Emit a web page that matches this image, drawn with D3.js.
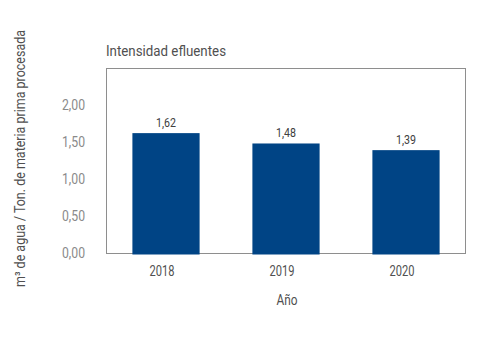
<!DOCTYPE html>
<html>
<head>
<meta charset="utf-8">
<script src="https://cdn.jsdelivr.net/npm/d3@7"></script>
<style>
  body { margin: 0; background: #ffffff; }
  svg text { font-family: Roboto, "Liberation Sans", sans-serif; }
</style>
</head>
<body>
<svg id="chart" width="502" height="351"></svg>
<script>
const years = ['2018', '2019', '2020'];
const values = [1.62, 1.48, 1.39];
const yTicks = [0, 0.5, 1, 1.5, 2];

const svg = d3.select('#chart');
const margin = { left: 106, right: 36, top: 68, bottom: 98 };
const width = 502, height = 351;

const x = d3.scaleBand()
    .domain(years)
    .range([margin.left, width - margin.right])
    .paddingInner(0.44)
    .paddingOuter(0.22);

const y = d3.scaleLinear()
    .domain([0, 2.5])
    .range([height - margin.bottom, margin.top]);

const fmt = d => d3.format('.2f')(d).replace('.', ',');

// the reference uses a condensed face, squeeze text to its width
const squeeze = (sel, w) => sel
    .attr('textLength', w)
    .attr('lengthAdjust', 'spacingAndGlyphs');

// frame
svg.append('rect')
    .attr('x', margin.left + 0.5)
    .attr('y', margin.top + 0.5)
    .attr('width', width - margin.left - margin.right - 1)
    .attr('height', y(0) - margin.top)
    .attr('fill', 'none')
    .attr('stroke', '#8e8e8e')
    .attr('stroke-width', 1);

// bars
svg.append('g')
    .selectAll('rect')
    .data(values)
    .enter()
    .append('rect')
    .attr('x', (d, i) => x(years[i]))
    .attr('y', d => y(d))
    .attr('width', x.bandwidth())
    .attr('height', d => y(0) - y(d) + 1.5)
    .attr('fill', '#004485');

// value labels
svg.append('g')
    .selectAll('text')
    .data(values)
    .enter()
    .append('text')
    .attr('x', (d, i) => x(years[i]) + x.bandwidth() / 2)
    .attr('y', d => y(d) - 6)
    .attr('text-anchor', 'middle')
    .attr('font-size', 13.5)
    .attr('fill', '#404040')
    .text(fmt)
    .call(squeeze, 20);

// y axis
const yAxis = svg.append('g')
    .attr('transform', `translate(${margin.left - 21},0)`)
    .call(d3.axisLeft(y).tickValues(yTicks).tickSize(0).tickPadding(0).tickFormat(fmt));
yAxis.select('.domain').remove();
yAxis.selectAll('text')
    .attr('font-size', 15)
    .attr('fill', '#8a8a8a')
    .style('font-family', 'Roboto, sans-serif')
    .call(squeeze, 23);

// x axis
const xAxis = svg.append('g')
    .attr('transform', `translate(-4,${y(0) + 8})`)
    .call(d3.axisBottom(x).tickSize(0).tickPadding(4));
xAxis.select('.domain').remove();
xAxis.selectAll('text')
    .attr('font-size', 15)
    .attr('fill', '#505050')
    .style('font-family', 'Roboto, sans-serif')
    .call(squeeze, 25);

// titles
svg.append('text')
    .attr('x', margin.left)
    .attr('y', 55.5)
    .attr('font-size', 14)
    .attr('fill', '#505050')
    .text('Intensidad efluentes')
    .call(squeeze, 120);

svg.append('text')
    .attr('x', 287)
    .attr('y', 305)
    .attr('text-anchor', 'middle')
    .attr('font-size', 15)
    .attr('fill', '#505050')
    .text('Año')
    .call(squeeze, 21);

svg.append('text')
    .attr('transform', `translate(25,158.5) rotate(-90)`)
    .attr('text-anchor', 'middle')
    .attr('font-size', 14.5)
    .attr('fill', '#505050')
    .text('m³ de agua / Ton. de materia prima procesada')
    .call(squeeze, 257);
</script>
</body>
</html>
